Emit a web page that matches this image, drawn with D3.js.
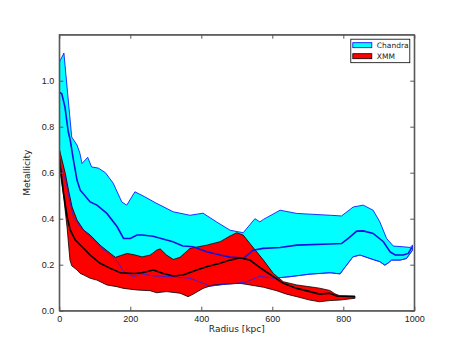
<!DOCTYPE html>
<html lang="en">
<head>
<meta charset="UTF-8">
<title>Metallicity profile</title>
<script src="https://cdn.jsdelivr.net/npm/d3@7/dist/d3.min.js"></script>
<style>
    body { margin: 0; background: #fff; }
    svg { display: block; font-family: "DejaVu Sans", sans-serif; }
    .axis text { font-size: 9px; fill: #222; }
    .axis path, .axis line { stroke: #555; }
    .label { font-size: 9px; fill: #222; }
    .legend text { font-size: 7.5px; fill: #222; }
</style>
</head>
<body>
<svg width="461" height="346"></svg>
<script>

    // [radius kpc, metallicity]
    var chandraUpper = [[0, 1.08], [13, 1.12], [35, 0.755], [50, 0.72], [58, 0.685], [64, 0.64], [80, 0.667],
        [91, 0.625], [110, 0.62], [130, 0.60], [152, 0.554], [176, 0.473], [190, 0.459], [213, 0.517],
        [241, 0.495], [270, 0.47], [321, 0.43], [368, 0.415], [405, 0.424], [443, 0.386], [481, 0.35],
        [518, 0.339], [551, 0.40], [565, 0.386], [575, 0.397], [622, 0.437], [669, 0.423], [763, 0.415],
        [795, 0.412], [828, 0.451], [856, 0.459], [884, 0.437], [903, 0.386], [922, 0.314], [941, 0.281],
        [969, 0.278], [988, 0.275], [995, 0.285]];

    var chandraLower = [[0, 0.64], [10, 0.60], [20, 0.553], [31, 0.466], [40, 0.408], [59, 0.365], [87, 0.321],
        [115, 0.278], [144, 0.242], [167, 0.206], [181, 0.169], [210, 0.148], [228, 0.162], [264, 0.151],
        [320, 0.148], [368, 0.141], [405, 0.119], [425, 0.107], [471, 0.116], [500, 0.119], [528, 0.126],
        [565, 0.15], [603, 0.141], [650, 0.148], [706, 0.159], [763, 0.165], [791, 0.16], [799, 0.177],
        [827, 0.234], [847, 0.242], [875, 0.227], [903, 0.213], [917, 0.198], [927, 0.208], [936, 0.22],
        [960, 0.22], [978, 0.227], [995, 0.263]];

    var chandraMedian = [[0, 0.95], [7, 0.943], [16, 0.885], [25, 0.78], [31, 0.74], [40, 0.654], [50, 0.567],
        [59, 0.524], [87, 0.473], [106, 0.459], [134, 0.423], [163, 0.365], [181, 0.314], [200, 0.314],
        [219, 0.329], [233, 0.329], [264, 0.324], [320, 0.30], [348, 0.281], [377, 0.278], [415, 0.256],
        [453, 0.242], [481, 0.233], [509, 0.23], [518, 0.227], [546, 0.263], [574, 0.271], [622, 0.275],
        [669, 0.285], [763, 0.29], [795, 0.292], [814, 0.314], [838, 0.346], [856, 0.347], [884, 0.336],
        [913, 0.30], [932, 0.256], [946, 0.242], [969, 0.242], [983, 0.249], [993, 0.275]];

    var xmmUpper = [[1, 0.697], [17, 0.596], [26, 0.524], [36, 0.451], [50, 0.394], [69, 0.35], [87, 0.329],
        [115, 0.285], [144, 0.249], [158, 0.232], [177, 0.242], [191, 0.249], [214, 0.242], [233, 0.234],
        [256, 0.242], [274, 0.263], [284, 0.269], [302, 0.242], [321, 0.223], [340, 0.232], [368, 0.271],
        [415, 0.285], [453, 0.30], [481, 0.325], [500, 0.339], [518, 0.329], [537, 0.292], [556, 0.256],
        [575, 0.22], [603, 0.162], [631, 0.126], [669, 0.112], [706, 0.104], [733, 0.098], [762, 0.088],
        [776, 0.074], [790, 0.065], [833, 0.063]];

    var xmmLower = [[1, 0.62], [12, 0.50], [22, 0.36], [30, 0.22], [35, 0.195], [50, 0.177], [59, 0.162],
        [69, 0.155], [87, 0.141], [106, 0.133], [134, 0.112], [163, 0.104], [181, 0.097], [219, 0.09],
        [256, 0.087], [274, 0.078], [302, 0.083], [340, 0.076], [363, 0.061], [377, 0.072], [405, 0.097],
        [434, 0.112], [471, 0.116], [509, 0.119], [537, 0.112], [575, 0.102], [612, 0.087], [640, 0.072],
        [669, 0.061], [706, 0.046], [733, 0.039], [762, 0.044], [790, 0.046], [833, 0.054]];

    var xmmMedian = [[1, 0.66], [3, 0.625], [12, 0.51], [22, 0.408], [31, 0.35], [45, 0.307], [64, 0.278],
        [87, 0.242], [115, 0.206], [144, 0.184], [172, 0.165], [210, 0.162], [233, 0.165], [265, 0.177],
        [293, 0.162], [321, 0.151], [349, 0.155], [387, 0.177], [415, 0.191], [453, 0.206], [481, 0.22],
        [509, 0.23], [537, 0.22], [556, 0.198], [575, 0.177], [603, 0.148], [631, 0.119], [669, 0.097],
        [706, 0.083], [733, 0.072], [762, 0.076], [781, 0.064], [833, 0.061]];

    var xTicks = [0, 200, 400, 600, 800, 1000],
        yTicks = [0.0, 0.2, 0.4, 0.6, 0.8, 1.0],
        legendNames = ['Chandra', 'XMM'];

    var svg = d3.select('svg'),
        margin = { top: 34.7, right: 46.7, bottom: 35.3, left: 59.3 },
        chartWidth = 461 - margin.left - margin.right,
        chartHeight = 346 - margin.top - margin.bottom;

    var xScale = d3.scaleLinear().domain([0, 1000]).range([0, chartWidth]),
        yScale = d3.scaleLinear().domain([0, 1.2]).range([chartHeight, 0]);

    var chartGroup = svg.append('g')
                        .attr('transform', 'translate(' + [margin.left, margin.top] + ')');

    chartGroup.append('defs').append('clipPath').attr('id', 'clip')
              .append('rect').attr('width', chartWidth).attr('height', chartHeight);

    var plot = chartGroup.append('g').attr('clip-path', 'url(#clip)');

    var lineGene = d3.line()
                    .x(function(d) { return xScale(d[0]); })
                    .y(function(d) { return yScale(d[1]); });

    function band(upper, lower) {
        return lineGene(upper.concat(lower.slice().reverse())) + 'Z';
    }

    plot.append('path')
        .attr('d', band(chandraUpper, chandraLower))
        .style('fill', '#00ffff')
        .style('stroke', '#0000ff')
        .style('stroke-width', 0.8);

    plot.append('path')
        .attr('d', band(xmmUpper, xmmLower))
        .style('fill', '#ff0000')
        .style('stroke', '#000')
        .style('stroke-width', 0.8);

    // chandra edge shows over the red band
    plot.append('path')
        .attr('d', lineGene(chandraLower))
        .style('fill', 'none')
        .style('stroke', '#2020ff')
        .style('stroke-width', 0.8);

    plot.append('path')
        .attr('d', lineGene(chandraMedian))
        .style('fill', 'none')
        .style('stroke', '#1010e0')
        .style('stroke-width', 1.6);

    plot.append('path')
        .attr('d', lineGene(xmmMedian))
        .style('fill', 'none')
        .style('stroke', '#000')
        .style('stroke-width', 1.6);

    // axes with ticks inside on all four sides
    var xAxis = d3.axisBottom(xScale).tickValues(xTicks).tickSizeInner(-4).tickSizeOuter(0).tickPadding(5)
                    .tickFormat(d3.format('d'));
    var yAxis = d3.axisLeft(yScale).tickValues(yTicks).tickSizeInner(-4).tickSizeOuter(0).tickPadding(5)
                    .tickFormat(d3.format('.1f'));

    chartGroup.append('g').classed('axis', true)
              .attr('transform', 'translate(' + [0, chartHeight] + ')')
              .call(xAxis);
    chartGroup.append('g').classed('axis', true)
              .call(yAxis);
    chartGroup.append('g').classed('axis', true)
              .call(d3.axisTop(xScale).tickValues(xTicks).tickSizeInner(-4).tickSizeOuter(0).tickFormat(''));
    chartGroup.append('g').classed('axis', true)
              .attr('transform', 'translate(' + [chartWidth, 0] + ')')
              .call(d3.axisRight(yScale).tickValues(yTicks).tickSizeInner(-4).tickSizeOuter(0).tickFormat(''));

    chartGroup.append('rect')
              .attr('width', chartWidth).attr('height', chartHeight)
              .style('fill', 'none').style('stroke', '#555').style('stroke-width', 1.2);

    chartGroup.append('text').classed('label', true)
              .attr('x', chartWidth / 2).attr('y', chartHeight + 21)
              .attr('text-anchor', 'middle')
              .text('Radius [kpc]');

    chartGroup.append('text').classed('label', true)
              .attr('transform', 'translate(' + [-29, chartHeight / 2] + ') rotate(-90)')
              .attr('text-anchor', 'middle')
              .text('Metallicity');

    // legend
    var legend = chartGroup.append('g').classed('legend', true)
                    .attr('transform', 'translate(' + [291.5, 4.5] + ')');
    legend.append('rect')
          .attr('width', 59).attr('height', 23.5)
          .style('fill', '#fff').style('stroke', '#000').style('stroke-width', 0.8);

    var legendColors = { Chandra: ['#00ffff', '#0000ff'], XMM: ['#ff0000', '#000'] };
    var legendItem = legend.selectAll('.legend-item')
                        .data(legendNames)
                        .enter()
                        .append('g')
                        .attr('transform', function(d, i) { return 'translate(' + [2, 3.5 + i * 11] + ')'; });
    legendItem.append('rect')
              .attr('width', 19).attr('height', 5)
              .style('fill', function(d) { return legendColors[d][0]; })
              .style('stroke', function(d) { return legendColors[d][1]; })
              .style('stroke-width', 0.8);
    legendItem.append('text')
              .attr('x', 24).attr('y', 5.5)
              .text(function(d) { return d; });

</script>
</body>
</html>
